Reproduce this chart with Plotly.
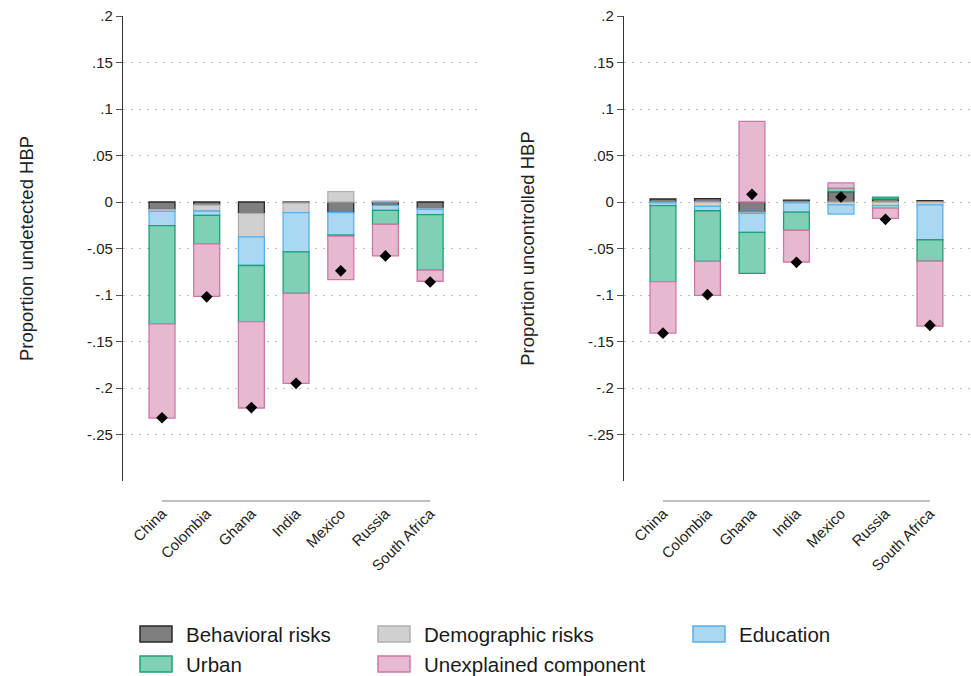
import plotly.graph_objects as go

# Countries and decomposition components (contributions to the gap)
countries = ["China", "Colombia", "Ghana", "India", "Mexico", "Russia", "South Africa"]

# Panel 1: proportion undetected HBP
behav_u = [-0.0080, -0.0032, -0.0126, -0.0011, -0.0115, -0.0036, -0.0068]
demog_u = [-0.0020, -0.0065, -0.0248, -0.0104, 0.0112, 0.0010, -0.0010]
educ_u = [-0.0155, -0.0047, -0.0309, -0.0421, -0.0241, -0.0054, -0.0058]
urban_u = [-0.1054, -0.0306, -0.0604, -0.0446, -0.0010, -0.0151, -0.0597]
unexp_u = [-0.1014, -0.0565, -0.0928, -0.0968, -0.0468, -0.0338, -0.0119]
total_u = [-0.232, -0.102, -0.221, -0.195, -0.074, -0.058, -0.086]

# Panel 2: proportion uncontrolled HBP
behav_c = [0.0032, 0.0036, -0.0108, 0.0020, 0.0110, 0.0032, 0.0015]
demog_c = [-0.0010, -0.0047, -0.0014, -0.0010, -0.0030, -0.0040, -0.0030]
educ_c = [-0.0030, -0.0047, -0.0204, -0.0098, -0.0100, -0.0025, -0.0376]
urban_c = [-0.0817, -0.0545, -0.0441, -0.0197, 0.0040, 0.0021, -0.0229]
unexp_c = [-0.0552, -0.0366, 0.0867, -0.0340, 0.0055, -0.0110, -0.0699]
total_c = [-0.141, -0.0996, 0.0082, -0.0649, 0.0054, -0.0186, -0.1326]

y_tickvals = [0.2, 0.15, 0.1, 0.05, 0, -0.05, -0.1, -0.15, -0.2, -0.25]
y_ticktext = [".2", ".15", ".1", ".05", "0", "-.05", "-.1", "-.15", "-.2", "-.25"]

components = ["Behavioral risks", "Demographic risks", "Education", "Urban", "Unexplained component"]
fills = ["#7f7f7f", "#d0d0d0", "#aad8f2", "#80d0b5", "#e6b9d1"]
edges = ["#2a2a2a", "#b0b0b0", "#5ab0e6", "#1f9e78", "#cc78a6"]

W, H = 971, 676
M_T, M_B = 16, 195
PLOT_H = H - M_T - M_B
FONT = "Liberation Sans, Arial, sans-serif"


def py_to_paper(py):
    return (H - M_B - py) / PLOT_H


def px_to_paper(px):
    return px / W


fig = go.Figure()
x_idx = list(range(len(countries)))

panels = [
    ("x", "y", [behav_u, demog_u, educ_u, urban_u, unexp_u], total_u),
    ("x2", "y2", [behav_c, demog_c, educ_c, urban_c, unexp_c], total_c),
]
for xa, ya, series, totals in panels:
    for name, vals, fc, ec in zip(components, series, fills, edges):
        fig.add_trace(go.Bar(
            x=x_idx, y=vals, name=name, xaxis=xa, yaxis=ya,
            marker=dict(color=fc, line=dict(color=ec, width=1.3)),
            showlegend=False,
        ))
    fig.add_trace(go.Scatter(
        x=x_idx, y=totals, mode="markers", xaxis=xa, yaxis=ya,
        marker=dict(symbol="diamond", size=9, color="black"),
        showlegend=False, name="Total",
    ))

axis_common_x = dict(
    tickmode="array", tickvals=x_idx, ticktext=countries, tickangle=-45,
    showgrid=False, zeroline=False, showline=False, ticks="",
    tickfont=dict(family=FONT, size=15, color="#222"),
    ticklabelstandoff=20,
)
axis_common_y = dict(
    range=[-0.3, 0.2], tickmode="array", tickvals=y_tickvals, ticktext=y_ticktext,
    showgrid=True, gridcolor="#bdbdbd", griddash="2px,6px", gridwidth=1,
    zeroline=False, showline=True, linecolor="#333", linewidth=1.3,
    ticks="outside", ticklen=6, tickcolor="#555", tickwidth=1,
    tickfont=dict(family=FONT, size=15, color="#222"),
    title=dict(font=dict(family=FONT, size=18.5, color="#222"), standoff=48),
)

fig.update_layout(
    width=W, height=H,
    margin=dict(l=0, r=0, t=M_T, b=M_B),
    paper_bgcolor="white", plot_bgcolor="white",
    barmode="relative", bargap=0.42,
    xaxis=dict(domain=[123 / W, 482 / W], range=[-0.873, 7.16], anchor="y", **axis_common_x),
    xaxis2=dict(domain=[624 / W, 970 / W], range=[-0.876, 6.9], anchor="y2", **axis_common_x),
    yaxis=dict(anchor="x", **axis_common_y),
    yaxis2=dict(anchor="x2", **axis_common_y),
    showlegend=False,
)
fig.update_layout(
    yaxis_title_text="Proportion undetected HBP",
    yaxis2_title_text="Proportion uncontrolled HBP",
)

# Detached category axis lines beneath each panel
for xa in ["x", "x2"]:
    fig.add_shape(type="line", xref=xa, yref="paper",
                  x0=0, x1=len(countries) - 1,
                  y0=py_to_paper(501), y1=py_to_paper(501),
                  line=dict(color="#aaaaaa", width=1.5))

# Legend: three columns, two rows
legend_slots = [(140, 634), (378, 634), (693, 634), (140, 664), (378, 664)]
for k, (lx, ly) in enumerate(legend_slots):
    fig.add_shape(type="rect", xref="paper", yref="paper",
                  x0=px_to_paper(lx), x1=px_to_paper(lx + 32),
                  y0=py_to_paper(ly + 8), y1=py_to_paper(ly - 8),
                  fillcolor=fills[k], line=dict(color=edges[k], width=1.5))
    fig.add_annotation(xref="paper", yref="paper",
                       x=px_to_paper(lx + 44), y=py_to_paper(ly),
                       text=components[k], showarrow=False,
                       xanchor="left", yanchor="middle",
                       font=dict(family=FONT, size=20.5, color="#1a1a1a"))

fig.write_html("out.html")
